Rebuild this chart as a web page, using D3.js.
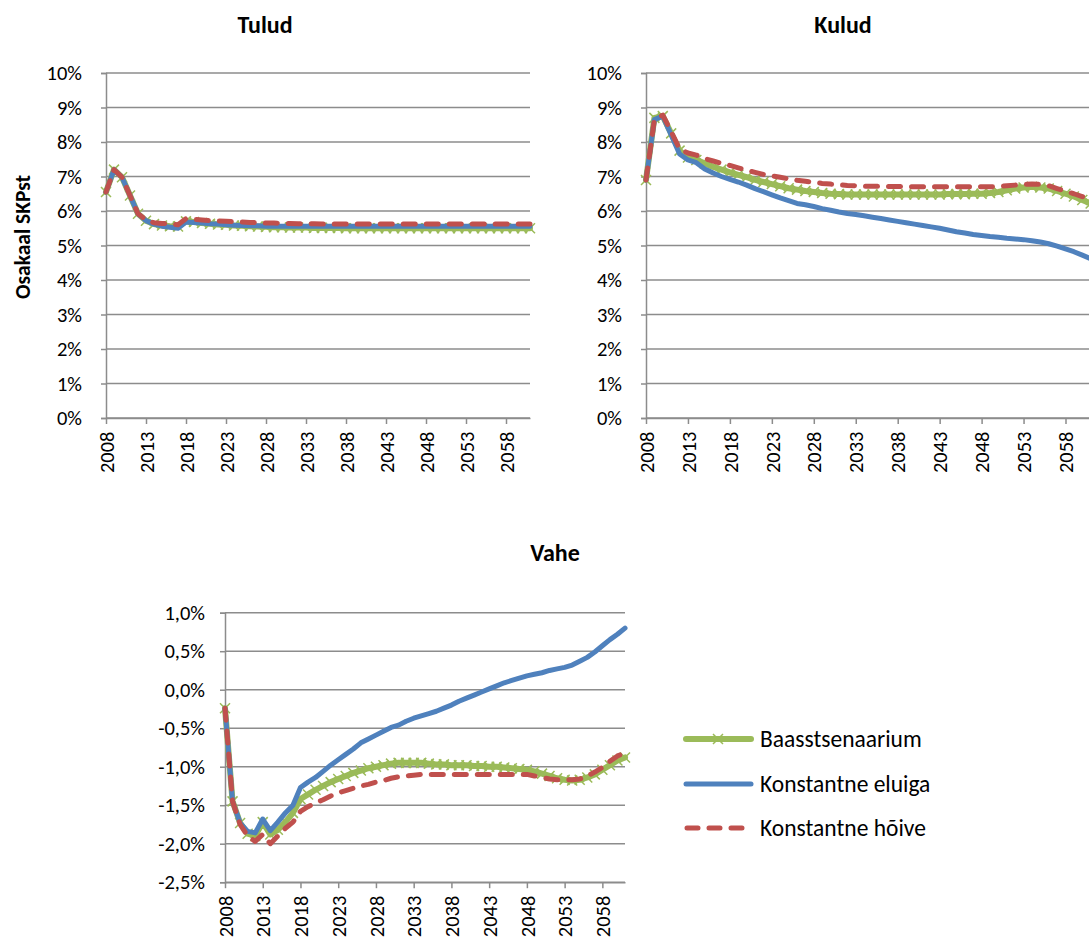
<!DOCTYPE html>
<html><head><meta charset="utf-8">
<script src="https://cdn.jsdelivr.net/npm/d3@7"></script>
<style>
body{margin:0;background:#fff;}
text{font-family:Carlito,Calibri,Lato,"Noto Sans",sans-serif;fill:#000;}
</style></head>
<body><svg id="c" width="1089" height="946"></svg>
<script>
const years = d3.range(2008, 2062);
const seriesNames = ["Baasstsenaarium","Konstantne eluiga","Konstantne hõive"];
const colors = ["#9BBB59","#4F81BD","#C0504D"];

// Tulud (% of GDP)
const tuludBase = [6.55,7.2,6.98,6.45,5.92,5.72,5.62,5.58,5.56,5.55,5.7,5.68,5.65,5.63,5.61,5.6,5.58,5.57,5.56,5.55,5.54,5.53,5.53,5.52,5.52,5.52,5.51,5.51,5.51,5.51,5.5,5.5,5.5,5.5,5.5,5.5,5.5,5.5,5.5,5.5,5.5,5.5,5.5,5.5,5.5,5.5,5.5,5.5,5.5,5.5,5.5,5.5,5.5,5.5];
const tuludElu = [6.55,7.2,6.98,6.45,5.92,5.72,5.62,5.56,5.53,5.5,5.68,5.67,5.65,5.63,5.62,5.6,5.59,5.58,5.57,5.57,5.56,5.56,5.56,5.56,5.56,5.56,5.56,5.56,5.56,5.56,5.56,5.56,5.56,5.56,5.56,5.56,5.56,5.56,5.56,5.56,5.56,5.56,5.56,5.56,5.56,5.56,5.56,5.56,5.56,5.56,5.56,5.56,5.56,5.56];
const tuludHoive = [6.55,7.2,6.98,6.45,5.92,5.74,5.66,5.64,5.63,5.6,5.78,5.76,5.74,5.72,5.71,5.7,5.69,5.68,5.67,5.66,5.65,5.65,5.64,5.64,5.63,5.63,5.63,5.62,5.62,5.62,5.62,5.62,5.62,5.62,5.62,5.62,5.62,5.62,5.62,5.62,5.62,5.62,5.62,5.62,5.62,5.62,5.62,5.62,5.62,5.62,5.62,5.62,5.62,5.62];

// Kulud
const kuludBase = [6.9,8.7,8.75,8.25,7.75,7.55,7.48,7.38,7.28,7.2,7.12,7.05,6.98,6.9,6.84,6.78,6.72,6.66,6.62,6.58,6.55,6.52,6.5,6.49,6.48,6.48,6.48,6.48,6.48,6.48,6.48,6.48,6.48,6.48,6.48,6.48,6.49,6.49,6.49,6.5,6.5,6.52,6.55,6.6,6.65,6.68,6.7,6.68,6.65,6.58,6.5,6.42,6.32,6.22];
const kuludElu = [6.9,8.65,8.75,8.2,7.65,7.48,7.4,7.22,7.1,7.0,6.92,6.84,6.75,6.65,6.56,6.47,6.38,6.3,6.22,6.18,6.13,6.07,6.02,5.97,5.93,5.9,5.86,5.82,5.78,5.74,5.7,5.66,5.62,5.58,5.54,5.5,5.45,5.4,5.36,5.32,5.29,5.26,5.24,5.21,5.19,5.17,5.14,5.1,5.05,4.98,4.9,4.82,4.72,4.62];
const kuludHoive = [6.9,8.65,8.78,8.3,7.8,7.68,7.62,7.52,7.45,7.38,7.32,7.25,7.18,7.12,7.06,7.02,6.98,6.93,6.89,6.86,6.83,6.8,6.78,6.76,6.74,6.73,6.72,6.72,6.71,6.71,6.71,6.7,6.7,6.7,6.7,6.7,6.7,6.7,6.7,6.7,6.7,6.7,6.71,6.73,6.75,6.77,6.78,6.77,6.73,6.65,6.57,6.5,6.42,6.35];

// Vahe
const vaheBase = [-0.24,-1.45,-1.73,-1.87,-1.9,-1.72,-1.88,-1.82,-1.72,-1.6,-1.42,-1.36,-1.3,-1.25,-1.2,-1.16,-1.12,-1.08,-1.05,-1.02,-1.0,-0.98,-0.96,-0.95,-0.95,-0.95,-0.95,-0.96,-0.97,-0.97,-0.98,-0.98,-0.98,-0.99,-0.99,-1.0,-1.0,-1.01,-1.02,-1.03,-1.04,-1.06,-1.09,-1.12,-1.15,-1.17,-1.18,-1.17,-1.14,-1.1,-1.04,-0.98,-0.92,-0.88];
const vaheElu = [-0.24,-1.45,-1.73,-1.84,-1.86,-1.68,-1.83,-1.72,-1.6,-1.5,-1.27,-1.2,-1.14,-1.06,-0.98,-0.91,-0.84,-0.77,-0.69,-0.64,-0.59,-0.54,-0.49,-0.46,-0.41,-0.37,-0.34,-0.31,-0.28,-0.24,-0.2,-0.15,-0.11,-0.07,-0.03,0.01,0.05,0.09,0.12,0.15,0.18,0.2,0.22,0.25,0.27,0.29,0.32,0.37,0.42,0.49,0.57,0.65,0.72,0.8];
const vaheHoive = [-0.24,-1.45,-1.75,-1.9,-1.97,-1.88,-2.0,-1.9,-1.8,-1.72,-1.58,-1.52,-1.47,-1.43,-1.38,-1.34,-1.31,-1.28,-1.25,-1.23,-1.2,-1.18,-1.15,-1.13,-1.12,-1.11,-1.1,-1.1,-1.1,-1.1,-1.1,-1.1,-1.1,-1.1,-1.1,-1.1,-1.1,-1.1,-1.1,-1.1,-1.1,-1.12,-1.14,-1.16,-1.17,-1.17,-1.17,-1.16,-1.12,-1.07,-1.01,-0.93,-0.86,-0.82];

const yTicks10 = [0,1,2,3,4,5,6,7,8,9,10];
const yTicksVahe = [-2.5,-2.0,-1.5,-1.0,-0.5,0.0,0.5,1.0];
const xTickYears = [2008,2013,2018,2023,2028,2033,2038,2043,2048,2053,2058];

const svg = d3.select("#c");
const GRID = "#8c8c8c";
const TICK_FS = 20.5;

function panel(opts){
  const x = d3.scalePoint().domain(years).range(opts.xr);
  const y = d3.scaleLinear().domain(opts.yd).range(opts.yr);
  const g = svg.append("g");
  // gridlines
  g.append("g").selectAll("line").data(opts.yt).join("line")
    .attr("x1", opts.xr[0]).attr("x2", opts.xr[1])
    .attr("y1", d=>y(d)).attr("y2", d=>y(d))
    .attr("stroke", GRID).attr("stroke-width", 1.5);
  // y axis
  const ya = g.append("g").attr("transform", `translate(${opts.xr[0]},0)`)
    .call(d3.axisLeft(y).tickValues(opts.yt).tickSize(5).tickPadding(opts.pad).tickFormat(opts.fmt));
  ya.select(".domain").attr("stroke", GRID).attr("stroke-width", 1.5);
  ya.selectAll(".tick line").attr("stroke", GRID).attr("stroke-width", 1.5);
  ya.selectAll("text").attr("font-size", TICK_FS).attr("font-family", null).attr("fill","#000");
  // x axis
  const xa = g.append("g").attr("transform", `translate(0,${opts.yr[0]})`)
    .call(d3.axisBottom(x).tickValues(xTickYears).tickSize(6).tickSizeOuter(0));
  xa.select(".domain").attr("stroke", GRID).attr("stroke-width", 1.5);
  xa.selectAll(".tick line").attr("stroke", GRID).attr("stroke-width", 1.5);
  xa.selectAll("text").attr("font-size", TICK_FS).attr("font-family", null).attr("fill","#000")
    .attr("transform","rotate(-90)").attr("text-anchor","end")
    .attr("x", -13.5).attr("y", 0).attr("dy","0.35em");
  // title
  svg.append("text").attr("x", opts.tx).attr("y", opts.ty).attr("text-anchor","middle")
    .attr("font-weight","bold").attr("font-size", 24).text(opts.title);

  const line = d3.line().x((d,i)=>x(years[i])).y(d=>y(d));
  const data = opts.series;
  // base (green)
  g.append("path").attr("d", line(data[0])).attr("fill","none").attr("stroke", colors[0])
    .attr("stroke-width", 6).attr("stroke-linejoin","round").attr("stroke-linecap","round");
  g.append("g").selectAll("path").data(data[0]).join("path")
    .attr("d","M-5,-5L5,5M-5,5L5,-5")
    .attr("transform",(d,i)=>`translate(${x(years[i])},${y(d)})`)
    .attr("stroke", colors[0]).attr("stroke-width", 1.5).attr("fill","none");
  // elu (blue)
  g.append("path").attr("d", line(data[1])).attr("fill","none").attr("stroke", colors[1])
    .attr("stroke-width", 5).attr("stroke-linejoin","round").attr("stroke-linecap","round");
  // hoive (red dashed)
  g.append("path").attr("d", line(data[2])).attr("fill","none").attr("stroke", colors[2])
    .attr("stroke-width", 5).attr("stroke-linejoin","round").attr("stroke-linecap","round")
    .attr("stroke-dasharray","12,11");
}

const pct0 = d => d + "%";
const pctV = d => d3.format(".1f")(d).replace(".", ",").replace("−","-") + "%";

panel({xr:[106,530], yr:[418,73], yd:[0,10], yt:yTicks10, fmt:pct0, pad:19, title:"Tulud", tx:265, ty:33,
  series:[tuludBase, tuludElu, tuludHoive]});
panel({xr:[646,646+53*8.39], yr:[418,73], yd:[0,10], yt:yTicks10, fmt:pct0, pad:19, title:"Kulud", tx:843, ty:33,
  series:[kuludBase, kuludElu, kuludHoive]});
panel({xr:[225,625], yr:[882.2,612.7], yd:[-2.5,1.0], yt:yTicksVahe, fmt:pctV, pad:15, title:"Vahe", tx:555, ty:561,
  series:[vaheBase, vaheElu, vaheHoive]});

// y axis title
svg.append("text").attr("transform","translate(30,237) rotate(-90)").attr("text-anchor","middle")
  .attr("font-weight","bold").attr("font-size", 21.5).text("Osakaal SKPst");

// legend
const lg = svg.append("g");
const ly = [739, 784, 828];
seriesNames.forEach((name,i)=>{
  const l = lg.append("line").attr("x1",686).attr("x2",751).attr("y1",ly[i]).attr("y2",ly[i])
    .attr("stroke", colors[i]).attr("stroke-width", i===0?6:5).attr("stroke-linecap","round");
  if(i===2) l.attr("x1",687).attr("x2",745).attr("stroke-dasharray","11,11");
  if(i===0) lg.append("path").attr("d","M-5,-5L5,5M-5,5L5,-5")
    .attr("transform",`translate(718,${ly[i]})`).attr("stroke",colors[0]).attr("stroke-width",1.5);
  lg.append("text").attr("x",760).attr("y",ly[i]).attr("dy","0.35em").attr("font-size",23.5).text(name);
});
</script></body></html>
